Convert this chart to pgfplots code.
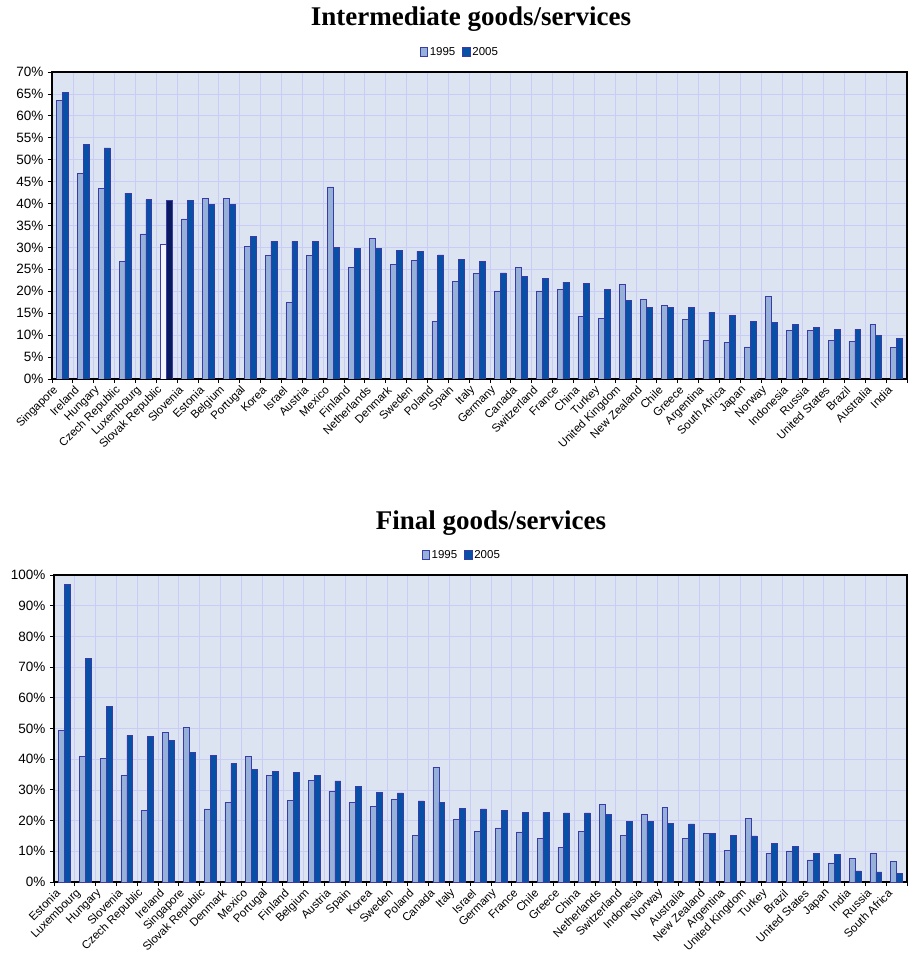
\documentclass[border=0pt]{standalone}
\usepackage{pgfplots}
\usepackage{pgfplotstable}
\pgfplotsset{compat=1.18}
\usepackage{fontspec}
\setmainfont{Liberation Sans}
\newfontfamily\titlefont{Liberation Serif}

\definecolor{bgc}{HTML}{DCE4F2}
\definecolor{gridc}{HTML}{C8CCF6}
\definecolor{c95}{HTML}{95B1D8}
\definecolor{c05}{HTML}{0650A6}
\definecolor{edge}{HTML}{3A3AA8}
\definecolor{skw}{HTML}{F4F4FA}
\definecolor{skn}{HTML}{0A1A5E}

% intermediate goods/services, share in %
\pgfplotstableread{
x  a     b
0  63.6  65.4
1  46.9  53.5
2  43.5  52.7
3  26.9  42.4
4  33.1  40.9
5  30.7  40.7
6  36.5  40.7
7  41.2  39.9
8  41.2  39.8
9  30.3  32.6
10 28.2  31.4
11 17.4  31.4
12 28.1  31.4
13 43.8  30.0
14 25.5  29.7
15 32.1  29.7
16 26.2  29.4
17 27.1  29.1
18 13.2  28.3
19 22.3  27.3
20 24.1  26.9
21 20.1  24.2
22 25.5  23.4
23 20.1  22.9
24 20.5  22.1
25 14.3  21.8
26 13.9  20.5
27 21.6  18.0
28 18.2  16.4
29 16.8  16.4
30 13.6  16.4
31 8.8   15.2
32 8.3   14.5
33 7.3   13.2
34 18.9  12.9
35 11.1  12.5
36 11.1  11.8
37 8.8   11.3
38 8.6   11.3
39 12.4  9.9
40 7.2   9.3
}\topdata

% Slovak Republic, highlighted
\pgfplotstableread{
x a    b
5 30.7 40.7
}\topsk

% final goods/services
\pgfplotstableread{
x  a     b
0  49.3  97.0
1  40.9  72.9
2  40.2  57.3
3  34.8  47.8
4  23.4  47.4
5  48.8  46.2
6  50.4  42.3
7  23.8  41.3
8  25.9  38.6
9  40.9  36.8
10 34.8  36.1
11 26.7  35.8
12 33.2  34.7
13 29.6  32.9
14 26.0  31.2
15 24.7  29.3
16 27.0  29.0
17 15.3  26.4
18 37.4  26.0
19 20.5  24.1
20 16.6  23.8
21 17.6  23.4
22 16.3  22.8
23 14.2  22.6
24 11.4  22.5
25 16.6  22.5
26 25.4  22.1
27 15.3  19.8
28 22.0  19.8
29 24.3  19.2
30 14.3  18.9
31 15.8  15.8
32 10.3  15.3
33 20.8  15.0
34 9.4   12.7
35 10.1  11.7
36 7.2   9.4
37 6.2   9.1
38 7.7   3.6
39 9.3   3.3
40 6.8   2.7
}\botdata

\pgfplotsset{
  chart/.style={
    scale only axis, anchor=south west,
    xmin=-0.5, xmax=40.5, ymin=0,
    xtick={0,...,40},
    minor xtick={-0.5,0.5,...,40.5},
    major tick length=0pt, minor tick length=4pt,
    tick align=outside, xtick pos=left, ytick pos=left,
    xminorgrids, yminorgrids,
    minor grid style={gridc, line width=0.7pt},
    minor tick style={black, line width=0.8pt},
    axis background/.style={fill=bgc},
    axis line style={black, line width=1.1pt},
    yticklabel={\pgfmathprintnumber[assume math mode=true]{\tick}\%},
    y tick label style={font=\fontsize{13.5}{15}\selectfont, xshift=-5pt},
    x tick label style={font=\fontsize{11.5}{13}\selectfont, xshift=-4pt, yshift=-7pt, rotate=45, anchor=east},
    legend style={draw=none, fill=none, legend columns=-1,
      font=\fontsize{11.5}{13}\selectfont,
      /tikz/every even column/.append style={column sep=5pt}},
    legend image code/.code={\draw[#1,line width=0.6pt] (0pt,-4.5pt) rectangle (7.5pt,4.5pt);},
  },
  b95/.style={ybar, bar width=5.9pt, bar shift=-2.95pt, fill=c95, draw=edge, line width=0.6pt},
  b05/.style={ybar, bar width=5.9pt, bar shift=2.95pt, fill=c05, draw=edge, line width=0.6pt},
}

\begin{document}
\begin{tikzpicture}
\useasboundingbox (0,0) rectangle (909pt,960pt);

\begin{axis}[chart,
    at={(52pt,581pt)}, width=855pt, height=307pt,
    ymax=70, ytick={0,5,...,70}, minor ytick={0,5,...,70},
    xticklabels={Singapore, Ireland, Hungary, Czech Republic, Luxembourg, Slovak Republic,
      Slovenia, Estonia, Belgium, Portugal, Korea, Israel, Austria, Mexico, Finland,
      Netherlands, Denmark, Sweden, Poland, Spain, Italy, Germany, Canada, Switzerland,
      France, China, Turkey, United Kingdom, New Zealand, Chile, Greece, Argentina,
      South Africa, Japan, Norway, Indonesia, Russia, United States, Brazil, Australia, India},
    legend style={at={(0.477,1)}, anchor=center, yshift=20pt},
  ]
  \addplot[b95] table[x=x, y=a] {\topdata};
  \addplot[b05] table[x=x, y=b] {\topdata};
  \addplot[b95, fill=skw, forget plot] table[x=x, y=a] {\topsk};
  \addplot[b05, fill=skn, forget plot] table[x=x, y=b] {\topsk};
  \legend{1995, 2005}
\end{axis}

\begin{axis}[chart,
    at={(54pt,78pt)}, width=853pt, height=307pt,
    ymax=100, ytick={0,10,...,100}, minor ytick={0,10,...,100},
    xticklabels={Estonia, Luxembourg, Hungary, Slovenia, Czech Republic, Ireland, Singapore,
      Slovak Republic, Denmark, Mexico, Portugal, Finland, Belgium, Austria, Spain, Korea,
      Sweden, Poland, Canada, Italy, Israel, Germany, France, Chile, Greece, China,
      Netherlands, Switzerland, Indonesia, Norway, Australia, New Zealand, Argentina,
      United Kingdom, Turkey, Brazil, United States, Japan, India, Russia, South Africa},
    legend style={at={(0.478,1)}, anchor=center, yshift=20pt},
  ]
  \addplot[b95] table[x=x, y=a] {\botdata};
  \addplot[b05] table[x=x, y=b] {\botdata};
  \legend{1995, 2005}
\end{axis}

\node[font=\titlefont\bfseries\fontsize{27}{31}\selectfont] at (471pt,941pt) {Intermediate goods/services};
\node[font=\titlefont\bfseries\fontsize{27}{31}\selectfont] at (491pt,437pt) {Final goods/services};
\end{tikzpicture}
\end{document}
